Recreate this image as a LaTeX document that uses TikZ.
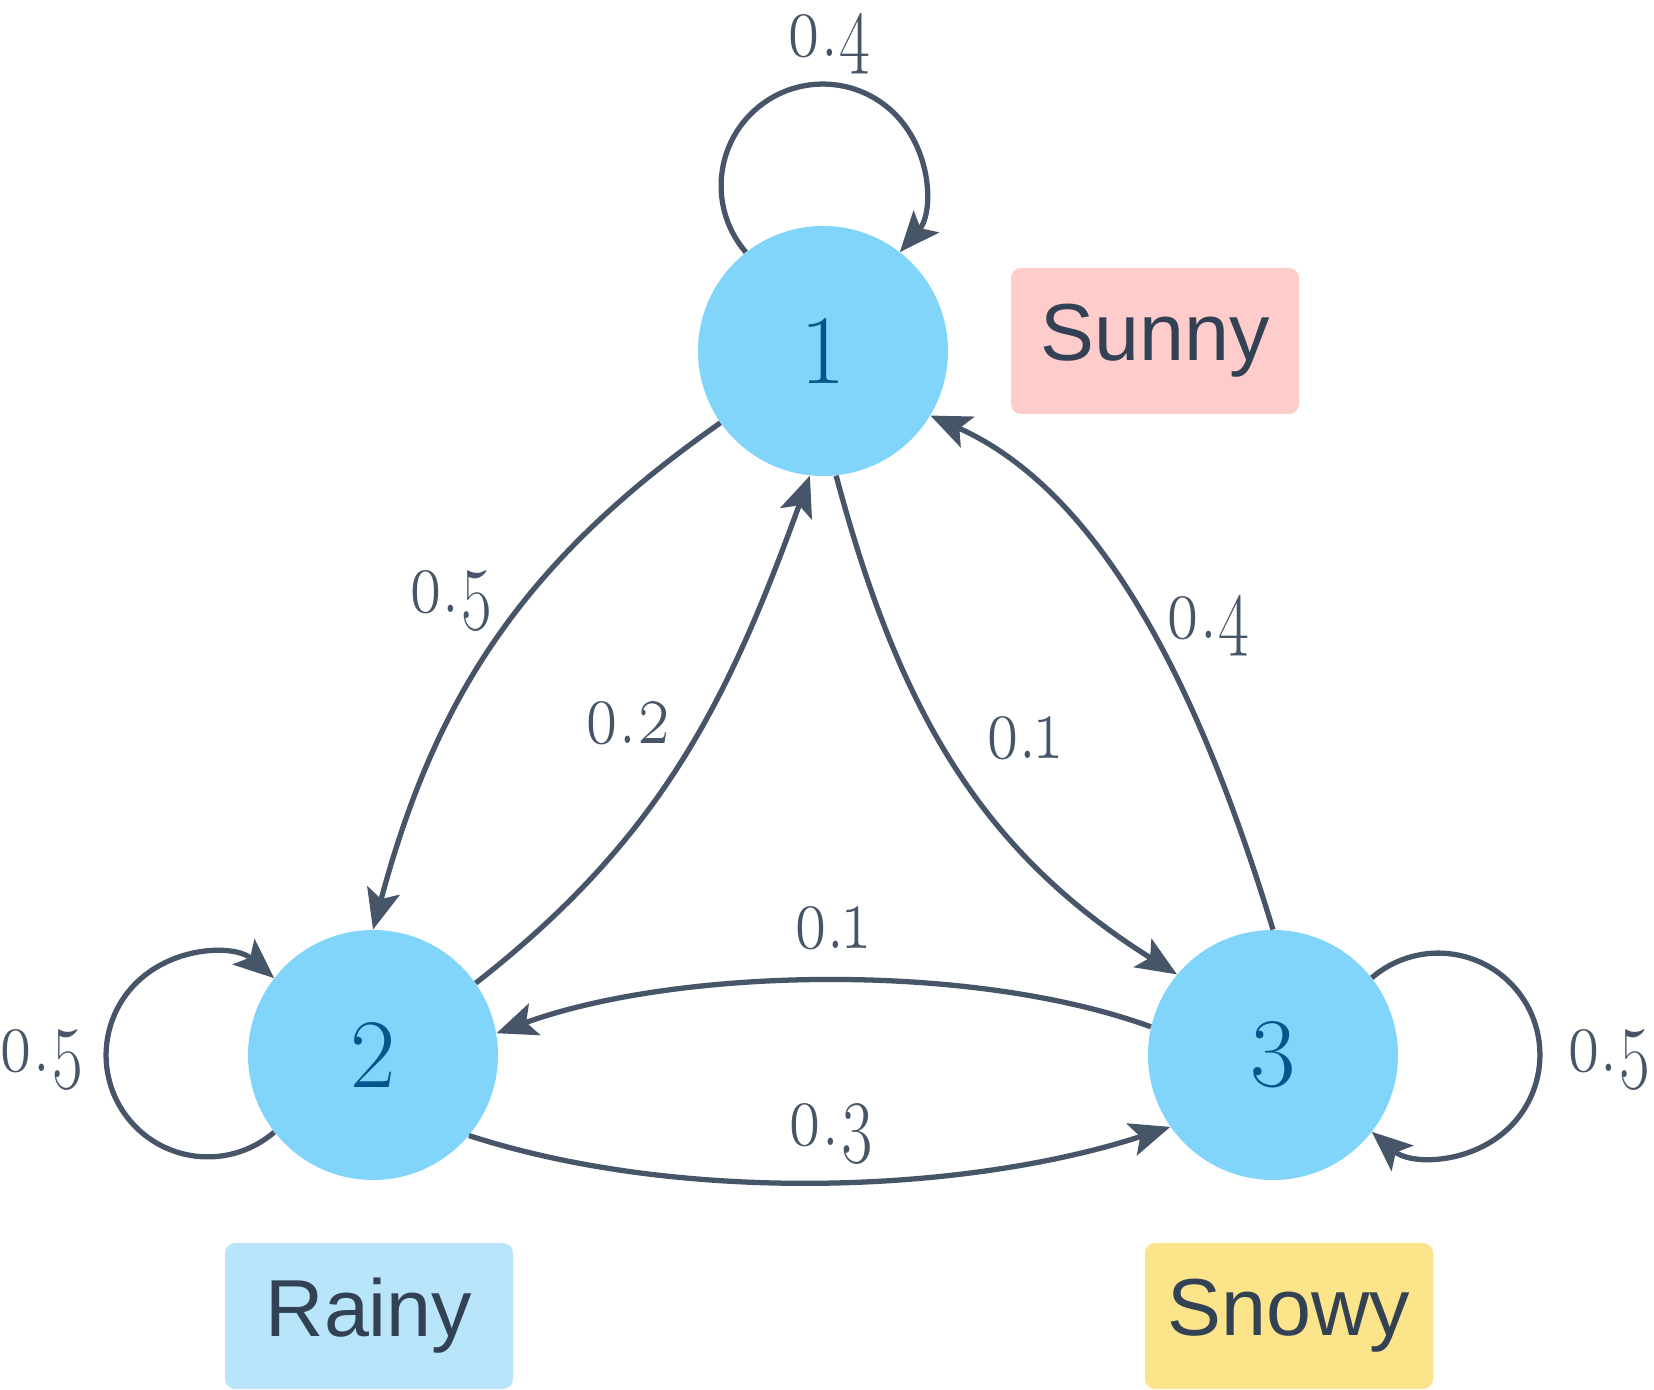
\documentclass[tikz,border=0pt]{standalone}
\usepackage{fontspec}
\setmainfont{Latin Modern Roman}
\newfontfamily\labelfont{Liberation Sans}
\usepackage{graphicx}
\usepackage{tikz}
\usetikzlibrary{
  arrows.meta,
  positioning
}
\usepackage{xcolor}
\definecolor{edgecol}{HTML}{475569}
\definecolor{statefill}{HTML}{81D4FA}
\definecolor{statetext}{HTML}{01578B}
\definecolor{tagtext}{HTML}{334155}
\definecolor{sunnyfill}{HTML}{FFCCCC}
\definecolor{rainyfill}{HTML}{B8E5FA}
\definecolor{snowyfill}{HTML}{FCE48A}

\newcommand{\pval}[1]{\scalebox{1}[1.35]{\oldstylenums{#1}}}

\begin{document}
\begin{tikzpicture}[
    state/.style={circle, fill=statefill, minimum size=5cm, inner sep=0pt,
      text=statetext, font=\fontsize{56}{62}\selectfont},
    trans/.style={draw=edgecol, line width=3pt,
      -{Stealth[length=23pt, width=19pt, inset=5pt]}},
    prob/.style={text=edgecol, inner sep=1pt, font=\fontsize{38}{46}\selectfont},
    tag/.style={rounded corners=0.2cm, minimum width=5.76cm, minimum height=2.92cm,
      text=tagtext, font=\labelfont\fontsize{46}{52}\selectfont}
  ]
  \useasboundingbox (0,0) rectangle (33.08,27.8);

  \node[state] (n1) at (16.46, 20.78) {1};
  \node[state] (n2) at (7.46, 6.70) {2};
  \node[state] (n3) at (25.46, 6.70) {3};

  \node[tag, fill=sunnyfill] (sunny) at (23.10, 20.98) {Sunny};
  \node[tag, fill=rainyfill] (rainy) at (7.38, 1.48) {Rainy};
  \node[tag, fill=snowyfill] (snowy) at (25.78, 1.48) {Snowy};

  \draw[trans] (n1.128) arc[start angle=220.8, end angle=-40.8, radius=2.034cm];
  \draw[trans] (n2.218) arc[start angle=-49.2, end angle=-310.8, radius=2.034cm];
  \draw[trans] (n3.38) arc[start angle=130.8, end angle=-130.8, radius=2.034cm];

  \draw[trans] (n1.215) to[out=215, in=75] (n2.90);
  \draw[trans] (n2.35) to[out=38, in=250] (n1.264);
  \draw[trans] (n1.276) to[out=285, in=148] (n3.140);
  \draw[trans] (n3.90) to[out=107, in=-24, looseness=0.85] (n1.-31);
  \draw[trans] (n3.167) to[out=160, in=20, looseness=0.75] (n2.10);
  \draw[trans] (n2.-40) to[out=-18, in=198, looseness=0.8] (n3.215);

  \node[prob] (p11) at (16.58, 26.92) {\pval{0.4}};
  \node[prob] (p12) at (9.02, 15.78) {\pval{0.5}};
  \node[prob] (p21) at (12.56, 13.34) {\pval{0.2}};
  \node[prob] (p13) at (20.46, 13.04) {\pval{0.1}};
  \node[prob] (p31) at (24.16, 15.28) {\pval{0.4}};
  \node[prob] (p32) at (16.62, 9.24) {\pval{0.1}};
  \node[prob] (p23) at (16.62, 5.12) {\pval{0.3}};
  \node[prob] (p22) at (0.84, 6.60) {\pval{0.5}};
  \node[prob] (p33) at (32.18, 6.60) {\pval{0.5}};
\end{tikzpicture}
\end{document}
